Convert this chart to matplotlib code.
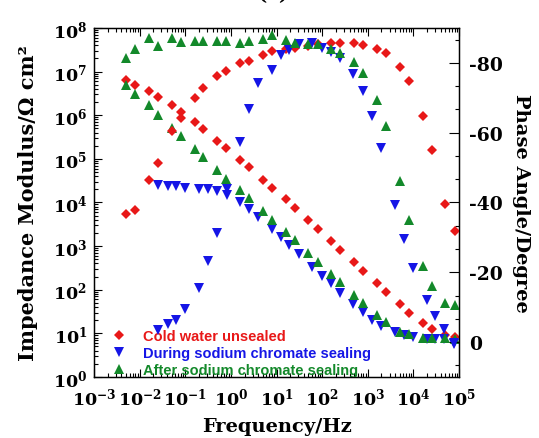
import matplotlib.pyplot as plt
from matplotlib.lines import Line2D
from matplotlib.ticker import (FixedFormatter, FixedLocator, LogLocator,
                               MultipleLocator, NullFormatter)

# frequency grids (Hz)
freq = [0.005, 0.008, 0.016, 0.025, 0.05, 0.08, 0.16, 0.25, 0.5, 0.8,
        1.6, 2.5, 5, 8, 16, 25, 50, 80, 160, 250,
        500, 800, 1600, 2500, 5000, 8000, 16000, 25000, 50000, 80000]
freq_during = [0.025, 0.041, 0.063, 0.1, 0.2, 0.32, 0.5, 0.81, 1.6, 2.5,
               4.0, 7.9, 12.3, 19, 31, 61, 98, 157, 247, 485,
               780, 1235, 1935, 3960, 6200, 9900, 19800, 30000, 48000, 78000]

# impedance modulus (ohm cm2)
z_cold = [6.5e6, 5.0e6, 3.5e6, 2.6e6, 1.7e6, 1.2e6, 6.9e5, 4.8e5, 2.6e5, 1.8e5,
          9.3e4, 6.5e4, 3.3e4, 2.1e4, 1.2e4, 7.4e3, 4.0e3, 2.5e3, 1.3e3, 830,
          430, 270, 140, 87, 47, 29, 17, 12.6, 9.1, 8.1]
z_during = [2.5e4, 2.4e4, 2.35e4, 2.2e4, 2.0e4, 2.0e4, 1.8e4, 1.5e4, 1.0e4, 7.1e3,
            4.6e3, 2.5e3, 1.6e3, 1.05e3, 650, 340, 210, 140, 85, 47,
            31, 20, 14.8, 10.5, 9.1, 8.1, 7.4, 7.4, 7.6, 5.6]
z_after = [4.9e6, 3.1e6, 1.7e6, 1.0e6, 5.2e5, 3.4e5, 1.7e5, 1.1e5, 5.6e4, 3.5e4,
           1.9e4, 1.26e4, 6.5e3, 4.0e3, 2.1e3, 1.4e3, 690, 440, 230, 150,
           76, 50, 26, 18, 10.7, 9.5, 7.9, 7.9, 7.9, 7.6]

# phase angle (degree)
phase_cold = [-36.6, -37.8, -46.4, -51.4, -60.5, -64.3, -69.9, -72.9, -76.1, -77.6,
              -79.9, -80.5, -82.3, -83.3, -84.0, -84.3, -84.9, -85.5, -85.7, -85.7,
              -85.7, -85.2, -84.1, -82.8, -78.9, -74.9, -64.7, -55.1, -39.7, -31.9]
phase_during = [-3.5, -5.1, -6.4, -9.4, -15.6, -23.1, -31.3, -44.0, -57.4, -66.9,
                -74.3, -78.1, -82.3, -83.8, -85.4, -85.7, -84.2, -83.1, -81.3, -76.9,
                -72.0, -64.8, -55.6, -39.4, -29.5, -21.3, -12.1, -7.6, -3.8, 0.3]
phase_after = [-81.4, -84.0, -87.1, -84.9, -87.1, -86.1, -86.4, -86.3, -86.2, -86.2,
               -85.7, -86.2, -86.7, -88.0, -86.5, -85.7, -85.4, -85.4, -84.0, -82.9,
               -80.2, -77.1, -69.4, -61.8, -46.2, -35.1, -21.9, -16.1, -11.2, -10.6]

labels = ['Cold water unsealed', 'During sodium chromate sealing',
          'After sodium chromate sealing']
colors = ['#e81818', '#1515e6', '#13892a']
markers = ['D', 'v', '^']

x_ticks = [1e-3, 1e-2, 1e-1, 1e0, 1e1, 1e2, 1e3, 1e4, 1e5]
x_tick_labels = [r'$\mathbf{10^{-3}}$', r'$\mathbf{10^{-2}}$', r'$\mathbf{10^{-1}}$',
                 r'$\mathbf{10^{0}}$', r'$\mathbf{10^{1}}$', r'$\mathbf{10^{2}}$',
                 r'$\mathbf{10^{3}}$', r'$\mathbf{10^{4}}$', r'$\mathbf{10^{5}}$']
y_ticks = [1e0, 1e1, 1e2, 1e3, 1e4, 1e5, 1e6, 1e7, 1e8]
y_tick_labels = [r'$\mathbf{10^{%d}}$' % k for k in range(9)]
phase_ticks = [-80, -60, -40, -20, 0]
phase_tick_labels = ['-80', '-60', '-40', '-20', '0']

plt.rcParams['mathtext.fontset'] = 'dejavuserif'
plt.rcParams['axes.unicode_minus'] = False
serif = dict(family='DejaVu Serif', weight='bold')

fig = plt.figure(figsize=(5.39, 4.39), dpi=100)
ax = fig.add_axes([0.1744, 0.139, 0.6772, 0.795])
ax2 = ax.twinx()

ms = [5, 6.5, 6.5]
zs = [z_cold, z_during, z_after]
ps = [phase_cold, phase_during, phase_after]
fs = [freq, freq_during, freq]
for f, z, p, c, m, s in zip(fs, zs, ps, colors, markers, ms):
    ax.plot(f, z, ls='none', marker=m, color=c, ms=s, mew=0)
    ax2.plot(f, p, ls='none', marker=m, color=c, ms=s, mew=0)

ax.set_xscale('log')
ax.set_yscale('log')
ax.set_xlim(1e-3, 1e5)
ax.set_ylim(1, 1e8)
ax2.set_ylim(10, -90)

ax.xaxis.set_major_locator(FixedLocator(x_ticks))
ax.xaxis.set_major_formatter(FixedFormatter(x_tick_labels))
ax.yaxis.set_major_locator(FixedLocator(y_ticks))
ax.yaxis.set_major_formatter(FixedFormatter(y_tick_labels))
for axis in (ax.xaxis, ax.yaxis):
    axis.set_minor_locator(LogLocator(base=10, subs=range(2, 10), numticks=20))
    axis.set_minor_formatter(NullFormatter())
ax2.yaxis.set_major_locator(FixedLocator(phase_ticks))
ax2.yaxis.set_major_formatter(FixedFormatter(phase_tick_labels))
ax2.yaxis.set_minor_locator(MultipleLocator(20 / 3))

ax.tick_params(which='both', direction='in', top=True, right=False, width=0.8,
               labelsize=12.5)
ax.tick_params(axis='x', pad=7)
ax.tick_params(axis='y', pad=5)
ax.tick_params(which='major', length=6)
ax.tick_params(which='minor', length=3)
ax2.tick_params(which='both', direction='in', width=0.8, labelsize=13.5, pad=7)
ax2.tick_params(which='major', length=7)
ax2.tick_params(which='minor', length=3)
for lab in ax2.get_yticklabels():
    lab.set_fontfamily('DejaVu Serif')
    lab.set_fontweight('bold')
for sp in ax.spines.values():
    sp.set_linewidth(1.0)

ax.set_xlabel('Frequency/Hz', fontsize=14, labelpad=6, **serif)
ax.set_ylabel('Impedance Modulus/Ω cm²', fontsize=15, labelpad=11, **serif)
ax2.set_ylabel('Phase Angle/Degree', fontsize=14, rotation=270, labelpad=20, **serif)

fig.text(0.505, 1.0, '(a)', ha='center', va='baseline', fontsize=14, **serif)

handles = [Line2D([], [], ls='none', marker=m, color=c, ms=s, mew=0)
           for m, c, s in zip(markers, colors, ms)]
leg = ax.legend(handles, labels, loc='lower left', bbox_to_anchor=(0.033, -0.017),
                frameon=False, handlelength=1.0, handletextpad=1.1,
                labelspacing=0.22, borderaxespad=0,
                prop=dict(family='Liberation Sans', weight='bold', size=10.5))
for t, c in zip(leg.get_texts(), colors):
    t.set_color(c)

fig.savefig('out.png', dpi=100)
